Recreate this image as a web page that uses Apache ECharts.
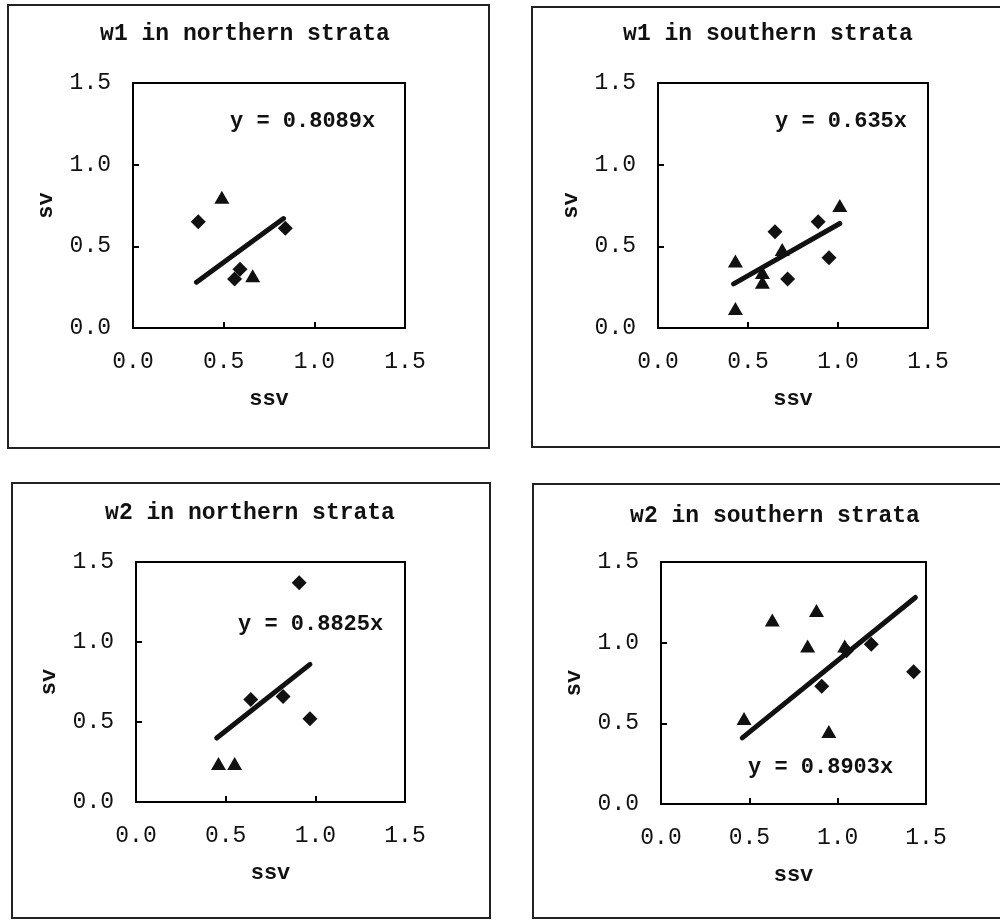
<!DOCTYPE html>
<html>
<head>
<meta charset="utf-8">
<script src="https://cdn.jsdelivr.net/npm/echarts@6/dist/echarts.min.js"></script>
<style>
html,body{margin:0;padding:0;background:#fff;}
#c{width:1000px;height:922px;}
</style>
</head>
<body>
<div id="c"></div>
<script>
// ---- data ----
const panelTitles = ['w1 in northern strata', 'w1 in southern strata', 'w2 in northern strata', 'w2 in southern strata'];
const equations = ['y = 0.8089x', 'y = 0.635x', 'y = 0.8825x', 'y = 0.8903x'];
const axisTicks = [0, 0.5, 1.0, 1.5];
const xName = 'ssv';
const yName = 'sv';

const n1Diamond = [[0.36, 0.65], [0.84, 0.61], [0.59, 0.36], [0.56, 0.30]];
const n1Triangle = [[0.49, 0.80], [0.66, 0.32]];
const n1Fit = [[0.35, 0.28], [0.83, 0.67]];

const s1Diamond = [[0.65, 0.59], [0.72, 0.30], [0.89, 0.65], [0.95, 0.43]];
const s1Triangle = [[0.43, 0.41], [0.43, 0.12], [0.69, 0.48], [0.58, 0.34], [0.58, 0.28], [1.01, 0.75]];
const s1Fit = [[0.42, 0.27], [1.01, 0.64]];

const n2Diamond = [[0.91, 1.37], [0.64, 0.64], [0.82, 0.66], [0.97, 0.52]];
const n2Triangle = [[0.46, 0.24], [0.55, 0.24]];
const n2Fit = [[0.45, 0.40], [0.97, 0.86]];

const s2Diamond = [[1.05, 0.95], [1.19, 0.99], [1.43, 0.82], [0.91, 0.73]];
const s2Triangle = [[0.63, 1.14], [0.88, 1.20], [0.83, 0.98], [1.04, 0.98], [0.47, 0.53], [0.95, 0.45]];
const s2Fit = [[0.46, 0.41], [1.44, 1.28]];

// ---- layout ----
const FONT = '"Liberation Mono", "DejaVu Sans Mono", monospace';
const grids = [
  {left: 133, top: 83, width: 272, height: 245},
  {left: 658, top: 83, width: 270, height: 245},
  {left: 136, top: 562, width: 269, height: 240},
  {left: 661, top: 562, width: 265, height: 242}
];
const boxes = [
  {x: 8, y: 5, w: 481, h: 443},
  {x: 532, y: 7, w: 480, h: 440},
  {x: 12, y: 483, w: 478, h: 435},
  {x: 533, y: 484, w: 480, h: 434}
];
const titlePos = [[240, 18], [763, 18], [245, 497], [770, 500]];
const eqPos = [[230, 110], [775, 110], [238, 613], [748, 756]];
const panels = [
  {d: n1Diamond, t: n1Triangle, f: n1Fit},
  {d: s1Diamond, t: s1Triangle, f: s1Fit},
  {d: n2Diamond, t: n2Triangle, f: n2Fit},
  {d: s2Diamond, t: s2Triangle, f: s2Fit}
];

const fmt = v => v.toFixed(1);
const xAxes = [], yAxes = [], series = [], titles = [], graphics = [];

grids.forEach((g, i) => {
  xAxes.push({
    gridIndex: i, type: 'value', min: 0, max: 1.5, interval: 0.5,
    name: xName, nameLocation: 'middle', nameGap: 60,
    nameTextStyle: {fontFamily: FONT, fontSize: 22, color: '#111', fontWeight: 'bold'},
    axisLine: {show: true, lineStyle: {color: '#000', width: 2}},
    axisTick: {show: true, inside: true, length: 6, lineStyle: {color: '#000', width: 2},
      customValues: [0.5, 1.0]},
    axisLabel: {margin: 22, fontFamily: FONT, fontSize: 23, color: '#111', formatter: fmt, customValues: axisTicks},
    splitLine: {show: false}
  });
  yAxes.push({
    gridIndex: i, type: 'value', min: 0, max: 1.5, interval: 0.5,
    name: yName, nameLocation: 'middle', nameGap: 76, nameRotate: 90,
    nameTextStyle: {fontFamily: FONT, fontSize: 22, color: '#111', fontWeight: 'bold'},
    axisLine: {show: true, lineStyle: {color: '#000', width: 2}},
    axisTick: {show: true, inside: true, length: 6, lineStyle: {color: '#000', width: 2},
      customValues: [0.5, 1.0]},
    axisLabel: {margin: 22, fontFamily: FONT, fontSize: 23, color: '#111', formatter: fmt, customValues: axisTicks},
    splitLine: {show: false}
  });
  const p = panels[i];
  series.push({
    type: 'line', xAxisIndex: i, yAxisIndex: i, data: p.f, showSymbol: false, symbol: 'none',
    lineStyle: {color: '#111', width: 5, cap: 'round'}, silent: true, z: 2
  });
  series.push({
    type: 'scatter', xAxisIndex: i, yAxisIndex: i, data: p.d, symbol: 'diamond',
    symbolSize: [15, 15], itemStyle: {color: '#111', opacity: 1}, z: 3
  });
  series.push({
    type: 'scatter', xAxisIndex: i, yAxisIndex: i, data: p.t, symbol: 'triangle',
    symbolSize: [15, 13], itemStyle: {color: '#111', opacity: 1}, z: 3
  });
  titles.push({
    text: panelTitles[i], left: titlePos[i][0], top: titlePos[i][1], textAlign: 'center',
    textStyle: {fontFamily: FONT, fontSize: 23, fontWeight: 'bold', color: '#111'}
  });
  const b = boxes[i];
  graphics.push({
    type: 'rect', shape: {x: b.x, y: b.y, width: b.w, height: b.h},
    style: {fill: 'none', stroke: '#222', lineWidth: 2}, silent: true
  });
  graphics.push({
    type: 'text', x: eqPos[i][0], y: eqPos[i][1],
    style: {text: equations[i], font: 'bold 22px ' + FONT, fill: '#111'}, silent: true
  });
});

const chart = echarts.init(document.getElementById('c'), null, {renderer: 'canvas'});
chart.setOption({
  backgroundColor: '#fff',
  animation: false,
  title: titles,
  grid: grids.map(g => Object.assign({show: true, borderColor: '#000', borderWidth: 2, backgroundColor: 'transparent'}, g)),
  xAxis: xAxes,
  yAxis: yAxes,
  series: series,
  graphic: graphics
});
</script>
</body>
</html>
